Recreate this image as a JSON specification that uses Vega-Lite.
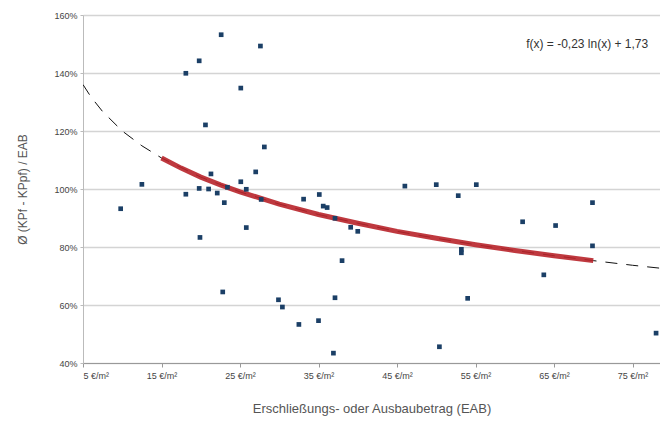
{
  "$schema": "https://vega.github.io/schema/vega-lite/v6.json",
  "width": 577,
  "height": 348,
  "autosize": {"type": "none"},
  "padding": {"left": 83, "top": 15, "right": 0, "bottom": 64},
  "background": "white",
  "config": {
    "view": {"stroke": null},
    "font": "Liberation Sans",
    "axis": {"labelFont": "Liberation Sans", "titleFont": "Liberation Sans", "titleFontWeight": "normal", "labelColor": "#444", "titleColor": "#555"}
  },
  "datasets": {
    "points": [
      {"x": 9.8, "y": 93.2}, {"x": 12.5, "y": 101.6}, {"x": 18.1, "y": 139.9}, {"x": 19.8, "y": 144.2},
      {"x": 20.6, "y": 122.1}, {"x": 21.3, "y": 105.2}, {"x": 18.1, "y": 98.2}, {"x": 19.8, "y": 100.2},
      {"x": 21.0, "y": 100.0}, {"x": 22.1, "y": 98.6}, {"x": 22.6, "y": 153.2}, {"x": 27.6, "y": 149.3},
      {"x": 25.1, "y": 134.8}, {"x": 28.1, "y": 114.5}, {"x": 27.0, "y": 105.9}, {"x": 25.1, "y": 102.5},
      {"x": 23.4, "y": 100.6}, {"x": 25.8, "y": 99.9}, {"x": 46.0, "y": 101.0}, {"x": 35.1, "y": 98.1},
      {"x": 33.1, "y": 96.5}, {"x": 23.0, "y": 95.3}, {"x": 27.7, "y": 96.4}, {"x": 35.6, "y": 94.1},
      {"x": 36.1, "y": 93.6}, {"x": 37.1, "y": 89.9}, {"x": 39.1, "y": 86.8}, {"x": 40.0, "y": 85.4},
      {"x": 25.8, "y": 86.7}, {"x": 19.9, "y": 83.3}, {"x": 38.0, "y": 75.3}, {"x": 22.8, "y": 64.5},
      {"x": 29.9, "y": 61.8}, {"x": 30.4, "y": 59.3}, {"x": 37.1, "y": 62.5}, {"x": 32.5, "y": 53.3},
      {"x": 35.0, "y": 54.6}, {"x": 36.9, "y": 43.4}, {"x": 50.0, "y": 101.5}, {"x": 55.1, "y": 101.5},
      {"x": 52.8, "y": 97.7}, {"x": 69.9, "y": 95.3}, {"x": 61.0, "y": 88.7}, {"x": 65.2, "y": 87.4},
      {"x": 69.9, "y": 80.4}, {"x": 53.2, "y": 79.2}, {"x": 53.2, "y": 78.0}, {"x": 63.7, "y": 70.4},
      {"x": 54.0, "y": 62.3}, {"x": 50.4, "y": 45.6}, {"x": 78.0, "y": 50.3}
    ],
    "trend": [
      {"x": 15, "y": 110.7}, {"x": 17.5, "y": 107.2}, {"x": 20, "y": 104.1}, {"x": 22.5, "y": 101.4},
      {"x": 25, "y": 99.0}, {"x": 30, "y": 94.8}, {"x": 35, "y": 91.2}, {"x": 40, "y": 88.2},
      {"x": 45, "y": 85.4}, {"x": 50, "y": 83.0}, {"x": 55, "y": 80.8}, {"x": 60, "y": 78.8},
      {"x": 65, "y": 77.0}, {"x": 70, "y": 75.3}
    ],
    "dashed": [
      {"x": 5, "y": 136.0}, {"x": 6, "y": 131.8}, {"x": 7.5, "y": 126.7}, {"x": 10, "y": 120.0},
      {"x": 12.5, "y": 114.9}, {"x": 15, "y": 110.7}, {"x": 20, "y": 104.1}, {"x": 25, "y": 99.0},
      {"x": 30, "y": 94.8}, {"x": 35, "y": 91.2}, {"x": 40, "y": 88.2}, {"x": 45, "y": 85.4},
      {"x": 50, "y": 83.0}, {"x": 55, "y": 80.8}, {"x": 60, "y": 78.8}, {"x": 65, "y": 77.0},
      {"x": 70, "y": 75.3}, {"x": 75, "y": 73.7}, {"x": 78.5, "y": 72.7}
    ],
    "label": [{"x": 77, "y": 150, "text": "f(x) = -0,23 ln(x) + 1,73"}]
  },
  "layer": [
    {
      "data": {"name": "dashed"},
      "mark": {"type": "line", "color": "#111", "strokeWidth": 1, "strokeDash": [12, 9], "clip": true},
      "encoding": {
        "x": {"field": "x", "type": "quantitative", "scale": {"domain": [5, 78.5], "nice": false, "zero": false},
          "axis": {"values": [5, 15, 25, 35, 45, 55, 65, 75], "labelExpr": "datum.value + ' €/m²'", "title": "Erschließungs- oder Ausbaubetrag (EAB)",
            "grid": false, "domainColor": "#999", "tickColor": "#999", "tickSize": 4, "labelFontSize": 9, "labelPadding": 4, "titleFontSize": 13, "titlePadding": 22}},
        "y": {"field": "y", "type": "quantitative", "scale": {"domain": [40, 160], "nice": false, "zero": false},
          "axis": {"values": [40, 60, 80, 100, 120, 140, 160], "labelExpr": "datum.value + '%'", "title": "Ø (KPf - KPpf) / EAB",
            "grid": true, "gridColor": "#d4d4d4", "gridWidth": 1.5, "domainColor": "#bbb", "tickColor": "#bbb", "tickSize": 3, "labelFontSize": 9, "labelPadding": 3, "titleFontSize": 12, "titlePadding": 24}}
      }
    },
    {
      "data": {"name": "trend"},
      "mark": {"type": "line", "color": "#b8232a", "strokeWidth": 5, "opacity": 0.9},
      "encoding": {
        "x": {"field": "x", "type": "quantitative"},
        "y": {"field": "y", "type": "quantitative"}
      }
    },
    {
      "data": {"name": "points"},
      "mark": {"type": "square", "color": "#1b3f66", "size": 22, "opacity": 1},
      "encoding": {
        "x": {"field": "x", "type": "quantitative"},
        "y": {"field": "y", "type": "quantitative"}
      }
    },
    {
      "data": {"name": "label"},
      "mark": {"type": "text", "align": "right", "baseline": "middle", "fontSize": 12, "color": "#333"},
      "encoding": {
        "x": {"field": "x", "type": "quantitative"},
        "y": {"field": "y", "type": "quantitative"},
        "text": {"field": "text"}
      }
    }
  ]
}
